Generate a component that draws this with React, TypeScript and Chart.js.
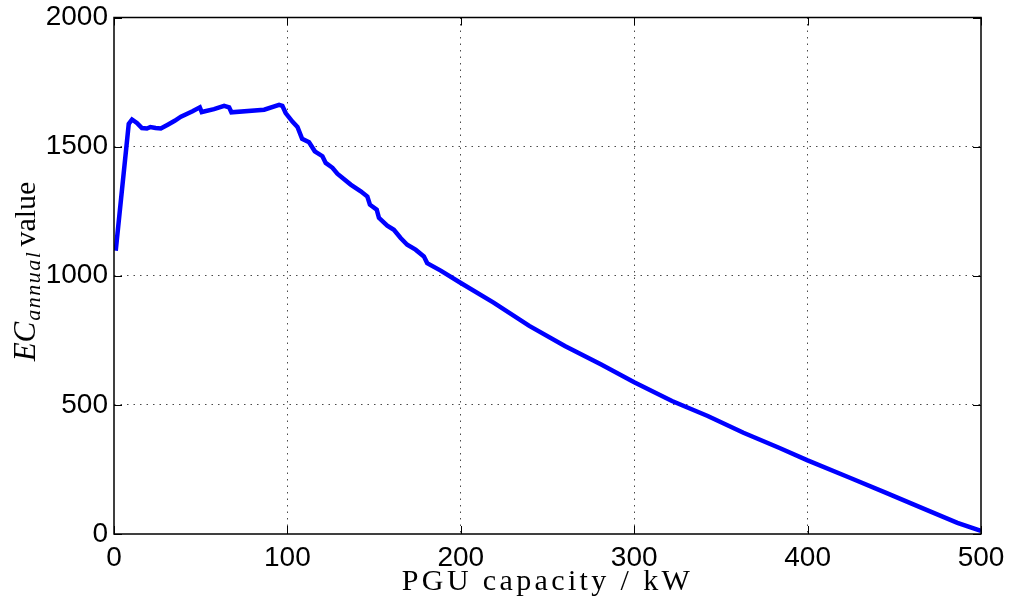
import React, { useEffect, useRef } from "react";
import { Chart, registerables } from "chart.js";

Chart.register(...registerables);

// PGU capacity (kW) along the curve
const capacityKW = [
  1, 8.5, 10.4, 13.2, 16.1, 19, 21, 24, 27, 31, 35, 38.6, 45.3, 49.5, 50.6, 57.7,
  63.5, 66.4, 67.7, 86.6, 95.2, 97.1, 99, 103, 105.8, 108.5, 112.5, 115.8, 120.2,
  122.1, 126, 128.8, 136.5, 142.3, 146.1, 147.6, 151.5, 152.8, 157.6, 161.4, 165.3,
  169.1, 173.9, 178.7, 180.6, 188.4, 200, 218.9, 239.5, 260, 280.7, 300, 321.8,
  342.4, 363, 383.5, 400, 424.7, 445.3, 465.8, 486.4, 500,
];

// Annual EC value at each capacity
const ecAnnual = [
  1097, 1588, 1605, 1592, 1572, 1570, 1576, 1572, 1570, 1585, 1600, 1616, 1637, 1652,
  1634, 1645, 1658, 1652, 1633, 1643, 1662, 1658, 1630, 1596, 1576, 1530, 1517, 1482,
  1463, 1437, 1418, 1395, 1353, 1327, 1307, 1275, 1256, 1224, 1194, 1178, 1146, 1120,
  1101, 1075, 1049, 1020, 972, 896, 806, 728, 657, 588, 515, 457, 392, 334, 285, 217,
  159, 101, 43, 12,
];

const xTickValues = [0, 100, 200, 300, 400, 500];
const yTickValues = [0, 500, 1000, 1500, 2000];

const xTitle = "PGU capacity / kW";
const yTitleMain = "EC";
const yTitleSub = "annual";
const yTitleTail = "value";

const frameAndTitles = {
  id: "frameAndTitles",
  afterDraw(chart: any) {
    const { ctx, chartArea: a, scales } = chart;
    const xs = scales.x;
    const ys = scales.y;
    ctx.save();

    // inward tick marks on all four sides
    ctx.strokeStyle = "#000";
    ctx.lineWidth = 1;
    const tl = 8;
    ctx.beginPath();
    xTickValues.forEach((v) => {
      const px = Math.round(xs.getPixelForValue(v)) + 0.5;
      ctx.moveTo(px, a.bottom);
      ctx.lineTo(px, a.bottom - tl);
      ctx.moveTo(px, a.top);
      ctx.lineTo(px, a.top + tl);
    });
    yTickValues.forEach((v) => {
      const py = Math.round(ys.getPixelForValue(v)) + 0.5;
      ctx.moveTo(a.left, py);
      ctx.lineTo(a.left + tl, py);
      ctx.moveTo(a.right, py);
      ctx.lineTo(a.right - tl, py);
    });
    ctx.stroke();

    // axes box
    ctx.lineWidth = 1.5;
    ctx.strokeRect(a.left, a.top, a.right - a.left, a.bottom - a.top);

    // x-axis title
    ctx.fillStyle = "#000";
    ctx.font = "30px 'Liberation Serif'";
    ctx.textBaseline = "alphabetic";
    ctx.textAlign = "left";
    const target = 288;
    const natural = ctx.measureText(xTitle).width;
    const spacing = Math.max(0, (target - natural) / (xTitle.length - 1));
    (ctx as any).letterSpacing = spacing + "px";
    const w = ctx.measureText(xTitle).width;
    const cx = (a.left + a.right) / 2;
    ctx.fillText(xTitle, cx - w / 2, 590);
    (ctx as any).letterSpacing = "0px";

    // y-axis title, rotated, with subscript
    ctx.translate(35, 272);
    ctx.rotate(-Math.PI / 2);
    const mainFont = "italic 31px 'Liberation Serif'";
    const subFont = "italic 22px 'Liberation Serif'";
    const tailFont = "30px 'Liberation Serif'";
    ctx.font = mainFont;
    const w1 = ctx.measureText(yTitleMain).width;
    ctx.font = subFont;
    (ctx as any).letterSpacing = "1.5px";
    const w2 = ctx.measureText(yTitleSub).width;
    (ctx as any).letterSpacing = "0px";
    ctx.font = tailFont;
    const w3 = ctx.measureText(yTitleTail).width;
    const gap = 4;
    const total = w1 + w2 + gap + w3;
    let xpos = -total / 2;
    ctx.font = mainFont;
    ctx.fillText(yTitleMain, xpos, 0);
    xpos += w1 + 1;
    ctx.font = subFont;
    (ctx as any).letterSpacing = "1.5px";
    ctx.fillText(yTitleSub, xpos, 5);
    (ctx as any).letterSpacing = "0px";
    xpos += w2 + gap;
    ctx.font = tailFont;
    ctx.fillText(yTitleTail, xpos, 0);

    ctx.restore();
  },
};

export default function App() {
  const canvasRef = useRef<HTMLCanvasElement | null>(null);

  useEffect(() => {
    const canvas = canvasRef.current;
    if (!canvas) return;
    const points = capacityKW.map((x, i) => ({ x, y: ecAnnual[i] }));
    const edgeless = (edges: number[]) => (c: any) =>
      edges.includes(c.tick?.value) ? "rgba(0,0,0,0)" : "#4a4a4a";
    const plain = (v: any) => String(v);

    const chart = new Chart(canvas, {
      type: "line",
      data: {
        datasets: [
          {
            data: points,
            borderColor: "#0000ff",
            borderWidth: 4.5,
            pointRadius: 0,
            tension: 0,
            fill: false,
          },
        ],
      },
      options: {
        animation: false,
        responsive: false,
        devicePixelRatio: 1,
        layout: { padding: { top: 17.5, right: 28, left: 0, bottom: 0 } },
        plugins: {
          legend: { display: false },
          tooltip: { enabled: false },
        },
        scales: {
          x: {
            type: "linear",
            min: 0,
            max: 500,
            afterBuildTicks: (s: any) => {
              s.ticks = xTickValues.map((v) => ({ value: v }));
            },
            afterFit: (s: any) => {
              s.height = 68;
              s.paddingLeft = 0;
              s.paddingRight = 0;
            },
            grid: {
              color: edgeless([0, 500]),
              lineWidth: 1,
              drawTicks: false,
            },
            border: { display: false, dash: [1.5, 5] },
            ticks: {
              padding: 7,
              color: "#000",
              font: { family: "'Liberation Sans'", size: 28 },
              maxRotation: 0,
              callback: plain,
            },
          },
          y: {
            type: "linear",
            min: 0,
            max: 2000,
            afterBuildTicks: (s: any) => {
              s.ticks = yTickValues.map((v) => ({ value: v }));
            },
            afterFit: (s: any) => {
              s.width = 114;
              s.paddingTop = 0;
              s.paddingBottom = 0;
            },
            grid: {
              color: edgeless([0, 2000]),
              lineWidth: 1,
              drawTicks: false,
            },
            border: { display: false, dash: [1.5, 5] },
            ticks: {
              padding: 6,
              color: "#000",
              font: { family: "'Liberation Sans'", size: 28 },
              callback: plain,
            },
          },
        },
      },
      plugins: [frameAndTitles],
    });
    return () => chart.destroy();
  }, []);

  return (
    <div style={{ position: "fixed", left: 0, top: 0, width: 1009, height: 602, background: "#fff" }}>
      <canvas ref={canvasRef} width={1009} height={602} />
    </div>
  );
}
